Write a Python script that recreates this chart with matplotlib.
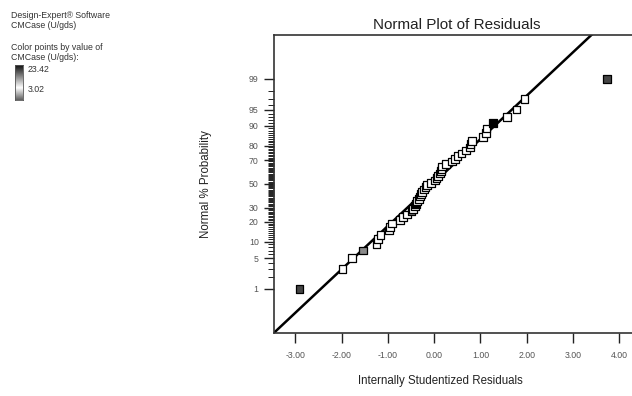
import numpy as np
import matplotlib
matplotlib.use("Agg")
import matplotlib.pyplot as plt
from matplotlib.colors import LinearSegmentedColormap
from statistics import NormalDist

plt.rcParams['font.family'] = ['Liberation Sans', 'DejaVu Sans']

# internally studentized residuals, sorted
residuals = [-2.91, -1.98, -1.77, -1.54, -1.25, -1.21, -1.16, -0.98, -0.95, -0.91,
             -0.74, -0.68, -0.59, -0.49, -0.46, -0.41, -0.39, -0.37, -0.33, -0.31,
             -0.28, -0.26, -0.22, -0.19, -0.16, -0.07, 0.02, 0.05, 0.08, 0.13,
             0.15, 0.16, 0.17, 0.25, 0.38, 0.45, 0.50, 0.59, 0.69, 0.77,
             0.78, 0.81, 1.06, 1.12, 1.13, 1.27, 1.57, 1.78, 1.95, 3.73]
# point colours (value of CMCase), mostly white
point_colors = ['#454545', 'white', 'white', '#8a8a8a', 'white', 'white', 'white', 'white', 'white', 'white',
                'white', 'white', 'white', '#7a7a7a', 'white', 'white', 'black', 'white', 'white', 'white',
                'white', 'white', 'white', 'white', 'white', 'white', 'white', 'white', 'white', 'white',
                'white', 'white', 'white', 'white', 'white', 'white', 'white', 'white', 'white', 'white',
                'white', 'white', 'white', 'white', 'white', 'black', 'white', 'white', 'white', '#454545']

major_pct = [1, 5, 10, 20, 30, 50, 70, 80, 90, 95, 99]
x_ticks = [-3, -2, -1, 0, 1, 2, 3, 4]
line_x = [-3.6, 3.6]
line_z = [-3.43, 3.49]

nd = NormalDist()


def fwd(p):
    p = np.clip(np.asarray(p, dtype=float), 1e-6, 100 - 1e-6)
    return np.vectorize(lambda v: nd.inv_cdf(v / 100.0))(p)


def inv(z):
    return np.vectorize(lambda v: nd.cdf(v) * 100.0)(np.asarray(z, dtype=float))


n = len(residuals)
probs = [(i + 0.5) / n * 100 for i in range(n)]

fig = plt.figure(figsize=(6.32, 3.96), dpi=100)
ax = fig.add_axes([274 / 632, 63 / 396, 366 / 632, 298.3 / 396])
ax.set_yscale('function', functions=(fwd, inv))

ax.plot(line_x, inv(line_z), color='black', lw=1.8, zorder=2)
ax.scatter(residuals, probs, marker='s', s=30, c=point_colors, edgecolors='black',
           linewidths=0.9, zorder=3)

ax.set_xlim(-3.46, 4.445)
ax.set_ylim(inv(-3.30), inv(3.30))
ax.set_xticks(x_ticks)
ax.set_xticklabels(['%.2f' % v for v in x_ticks])
ax.set_yticks(major_pct)
ax.set_yticklabels([str(v) for v in major_pct])
ax.set_yticks([v for v in range(1, 100) if v not in major_pct], minor=True)
ax.xaxis.set_minor_locator(matplotlib.ticker.NullLocator())

ax.tick_params(axis='both', which='major', direction='out', length=7, width=1.0,
               labelsize=6.3, labelcolor='#555555', color='#222222')
ax.tick_params(axis='y', which='minor', direction='out', length=4, width=0.7, color='#222222')
ax.tick_params(axis='x', pad=6)
ax.tick_params(axis='y', pad=4)
for s in ['left', 'bottom', 'top']:
    ax.spines[s].set_linewidth(1.2)
    ax.spines[s].set_color('#333333')
ax.spines['right'].set_visible(False)

fig.text(457 / 632, 1 - 25 / 396, 'Normal Plot of Residuals', ha='center', va='center',
         fontsize=11, color='#222222')
fig.text(440 / 632, 1 - 381 / 396, 'Internally Studentized Residuals', ha='center', va='center',
         fontsize=8.3, color='#222222')
fig.text(206 / 632, 1 - 184 / 396, 'Normal % Probability', ha='center', va='center',
         rotation=90, fontsize=8.3, color='#222222')

# legend block on the left
txt = dict(fontsize=6.3, color='#333333', ha='left', va='center')
fig.text(11 / 632, 1 - 15 / 396, 'Design-Expert® Software', **txt)
fig.text(11 / 632, 1 - 25 / 396, 'CMCase (U/gds)', **txt)
fig.text(11 / 632, 1 - 48 / 396, 'Color points by value of', **txt)
fig.text(11 / 632, 1 - 58 / 396, 'CMCase (U/gds):', **txt)
fig.text(28 / 632, 1 - 70 / 396, '23.42', **txt)
fig.text(28 / 632, 1 - 89 / 396, '3.02', **txt)

cmap = LinearSegmentedColormap.from_list('cm', [(0, '#606060'), (0.35, 'white'), (1.0, '#111111')])
cax = fig.add_axes([15 / 632, 1 - 100 / 396, 8 / 632, 35 / 396])
cax.imshow(np.linspace(0, 1, 100).reshape(-1, 1), aspect='auto', cmap=cmap, origin='lower')
cax.set_xticks([])
cax.set_yticks([])
for s in cax.spines.values():
    s.set_linewidth(0.6)
    s.set_color('#555555')

fig.savefig('out.png', dpi=100)
